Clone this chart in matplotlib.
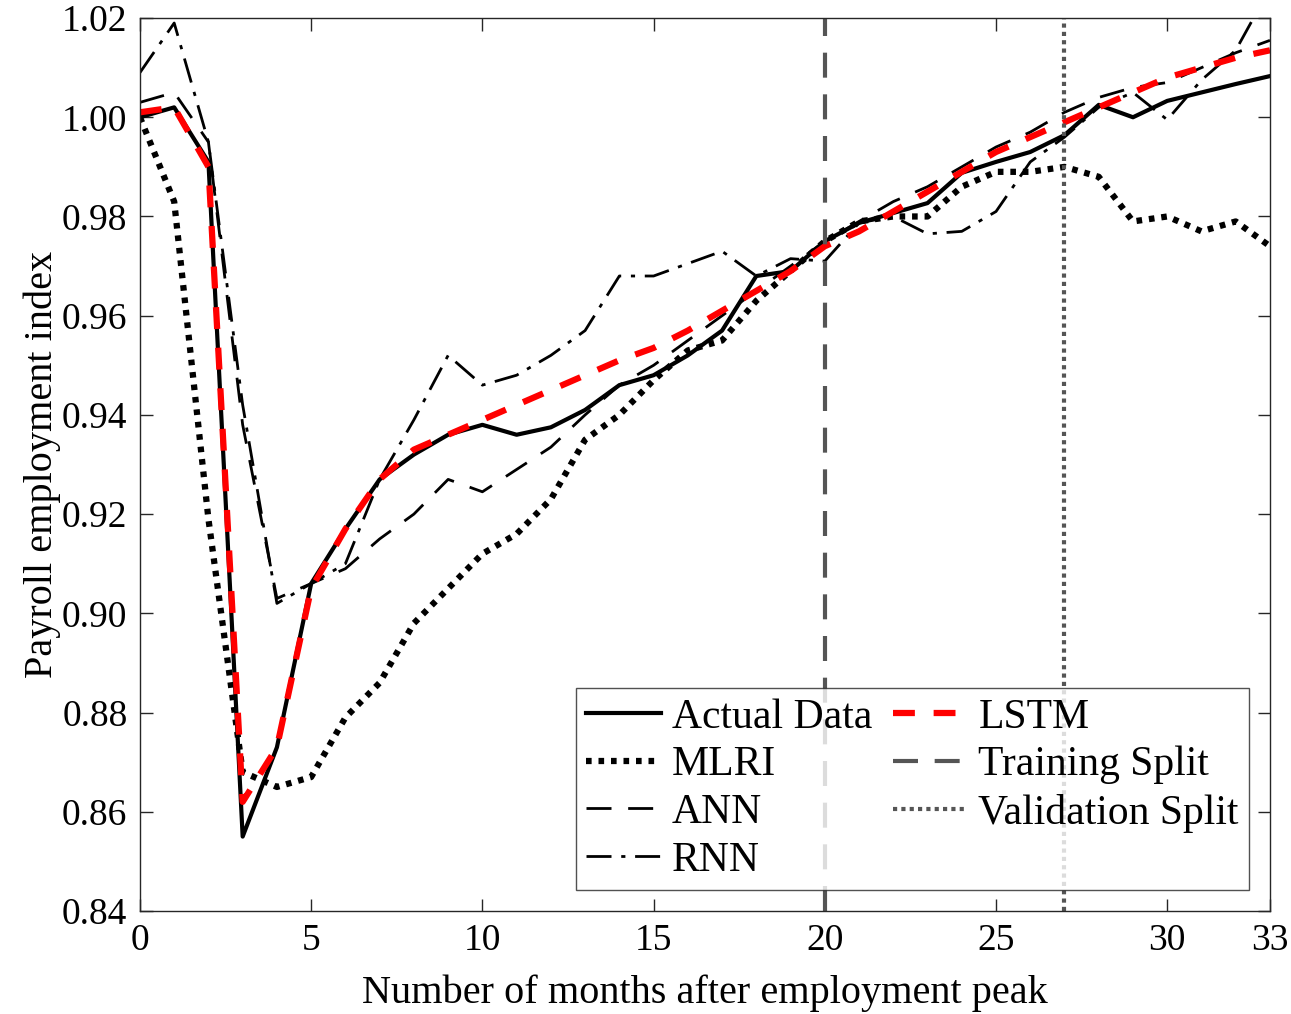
import matplotlib
matplotlib.use("Agg")
import matplotlib.pyplot as plt
import numpy as np

# months after employment peak
months = list(range(0, 34))

actual = [1.000, 1.002, 0.991, 0.855, 0.873, 0.906, 0.917, 0.927, 0.932, 0.936,
          0.938, 0.936, 0.9375, 0.941, 0.946, 0.948, 0.952, 0.957, 0.968, 0.969,
          0.975, 0.9787, 0.9807, 0.9827, 0.9888, 0.991, 0.993, 0.9964, 1.0025, 1.000,
          1.0033, 1.005, 1.0067, 1.0083]
mlri = [1.000, 0.983, 0.919, 0.868, 0.865, 0.867, 0.879, 0.886, 0.898, 0.905,
        0.912, 0.916, 0.923, 0.935, 0.940, 0.947, 0.953, 0.955, 0.963, 0.969,
        0.975, 0.979, 0.980, 0.980, 0.986, 0.989, 0.989, 0.990, 0.988, 0.979,
        0.980, 0.977, 0.979, 0.974]
ann = [1.003, 1.005, 0.995, 0.938, 0.903, 0.906, 0.909, 0.915, 0.920, 0.927,
       0.9245, 0.929, 0.9335, 0.940, 0.946, 0.950, 0.955, 0.960, 0.965, 0.970,
       0.975, 0.979, 0.983, 0.986, 0.990, 0.994, 0.997, 1.001, 1.004, 1.006,
       1.007, 1.010, 1.013, 1.0155]
rnn = [1.009, 1.019, 0.995, 0.942, 0.902, 0.906, 0.910, 0.927, 0.939, 0.952,
       0.946, 0.948, 0.952, 0.957, 0.968, 0.968, 0.9705, 0.973, 0.968, 0.9715,
       0.971, 0.9787, 0.980, 0.9765, 0.977, 0.981, 0.991, 0.996, 1.002, 1.005,
       0.9995, 1.0075, 1.0135, 1.026]
lstm = [1.001, 1.002, 0.990, 0.862, 0.873, 0.905, 0.917, 0.927, 0.933, 0.936,
        0.939, 0.942, 0.945, 0.948, 0.951, 0.9535, 0.957, 0.961, 0.965, 0.969,
        0.974, 0.977, 0.981, 0.985, 0.989, 0.993, 0.996, 0.999, 1.002, 1.005,
        1.008, 1.010, 1.012, 1.0135]

training_split = 20
validation_split = 27

xticks = [0, 5, 10, 15, 20, 25, 30, 33]
yticks = [0.84, 0.86, 0.88, 0.90, 0.92, 0.94, 0.96, 0.98, 1.00, 1.02]

plt.rcParams['font.family'] = ['Liberation Serif', 'DejaVu Serif']
plt.rcParams['font.size'] = 27

fig = plt.figure(figsize=(12.91, 10.14), dpi=100)
ax = fig.add_axes([0.1084, 0.1016, 0.8753, 0.8806])

ax.plot(months, actual, color='black', lw=3, label='Actual Data')
ax.plot(months, mlri, color='black', lw=4.5, linestyle=(0, (0.9, 1.1)), label='MLRI')
ax.plot(months, ann, color='black', lw=2, linestyle=(0, (9, 6)), label='ANN')
ax.plot(months, rnn, color='black', lw=2, linestyle=(0, (9, 3.5, 1.5, 3.5)), label='RNN')
ax.plot(months, lstm, color='red', lw=4.5, linestyle=(0, (3.5, 3)), label='LSTM')
ax.axvline(training_split, color='#555555', lw=3, linestyle=(0, (6, 4)), label='Training Split')
ax.axvline(validation_split, color='#555555', lw=3, linestyle=(0, (1, 1)), label='Validation Split')

ax.set_xlim(0, 33)
ax.set_ylim(0.84, 1.02)
ax.set_xticks(xticks)
ax.set_yticks(yticks)
ax.set_yticklabels([f"{v:.2f}" for v in yticks])
ax.tick_params(direction='in', length=9, width=1, top=True, right=True,
               labelsize=27, colors='#262626', labelcolor='black', pad=9)
for s in ax.spines.values():
    s.set_color('#262626')
    s.set_linewidth(1)

ax.set_xlabel('Number of months after employment peak', fontsize=29, labelpad=12)
ax.set_ylabel('Payroll employment index', fontsize=29, labelpad=1)

handles, labels = ax.get_legend_handles_labels()
leg = ax.legend(handles, labels, loc='lower right', ncol=2, fontsize=30,
                handlelength=1.8, handletextpad=0.25, columnspacing=0.5,
                labelspacing=0.22, borderaxespad=0.5, borderpad=0.25,
                frameon=True, fancybox=False, edgecolor='#262626')
leg.get_frame().set_linewidth(1)

fig.savefig('out.png', dpi=100)
